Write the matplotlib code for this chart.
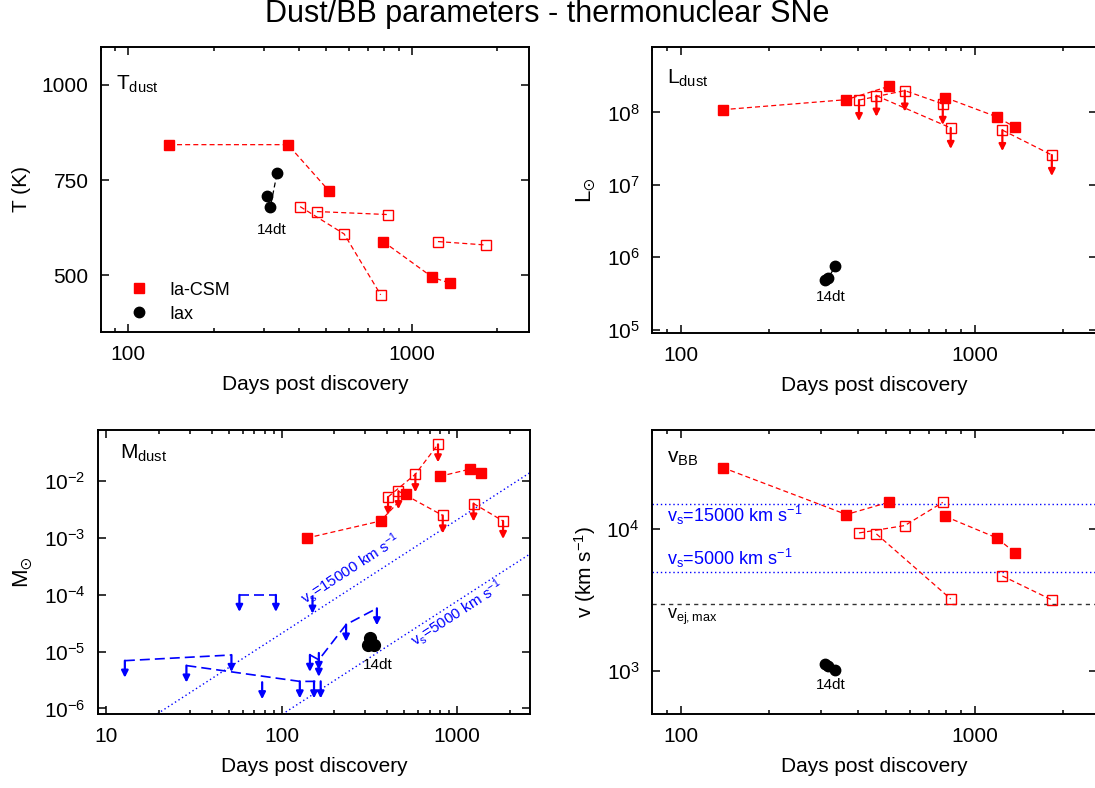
import numpy as np
import matplotlib
matplotlib.use("Agg")
import matplotlib.pyplot as plt
from matplotlib.lines import Line2D
from matplotlib.ticker import (FixedLocator, LogLocator, NullFormatter,
                               NullLocator, FuncFormatter, LogFormatterMathtext)

plt.rcParams.update({
    "font.family": ["Liberation Sans", "DejaVu Sans"],
    "mathtext.fontset": "custom",
    "mathtext.rm": "Liberation Sans",
    "mathtext.it": "Liberation Sans:italic",
    "mathtext.bf": "Liberation Sans:bold",
    "mathtext.default": "regular",
    "font.size": 15,
})

# ---- Ia-CSM, measured epochs (filled) ----
csm_a_days = [139, 366, 510]
csm_b_days = [794, 1186, 1373]
csm_a_T = [843, 843, 722]
csm_b_T = [588, 494, 478]
csm_a_L = [1.09e8, 1.50e8, 2.29e8]
csm_b_L = [1.60e8, 8.7e7, 6.2e7]
csm_a_M = [1.0e-3, 2.0e-3, 5.9e-3]
csm_b_M = [1.22e-2, 1.64e-2, 1.42e-2]
csm_a_v = [27200, 12700, 15500]
csm_b_v = [12300, 8700, 6800]

# ---- Ia-CSM, limits (open) ----
lim_a_days = [404, 578, 778]
lim_b_days = [463, 828]
lim_c_days = [1240, 1826]
lim_a_T = [680, 608, 448]
lim_b_T = [667, 659]
lim_c_T = [588, 579]
lim_a_L = [1.48e8, 2.0e8, 1.31e8]
lim_b_L = [1.70e8, 6.1e7]
lim_c_L = [5.7e7, 2.58e7]
lim_a_M = [5.3e-3, 1.33e-2, 4.47e-2]
lim_b_M = [6.7e-3, 2.5e-3]
lim_c_M = [4.06e-3, 2.0e-3]
lim_a_v = [9420, 10620, 15460]
lim_b_v = [9270, 3230]
lim_c_v = [4690, 3180]

# ---- SN 2014dt (Iax) ----
dt_days = [309, 317, 335]
dt_T = [709, 678, 768]
dt_L = [4.84e5, 5.1e5, 7.46e5]
dt_M = [1.3e-5, 1.72e-5, 1.3e-5]
dt_v = [1127, 1084, 1028]

# ---- dust-mass upper limits of other thermonuclear SNe ----
ul_groups_days = [[12.8, 51.8], [28.7, 127, 153, 167], [57.5, 92.8], [150],
                  [145, 163, 233, 349], [77.5], [163]]
ul_groups_M = [[6.95e-6, 8.75e-6], [5.7e-6, 3.0e-6, 3.0e-6, 3.0e-6],
               [1.0e-4, 1.0e-4], [9.3e-5], [8.8e-6, 7.2e-6, 3.0e-5, 5.8e-5],
               [2.9e-6], [9.5e-6]]

# ---- reference shell velocities (km/s) ----
v_shock = [15000, 5000]
v_ej_max = 3000
m_ref_100d = 2.1e-5   # dust mass at 100 d for v_s = 15000 km/s

RED = "#ff0000"
BLUE = "#0000ff"
DASH = (0, (4, 2.5))
SUN = r"$_{\odot}$"

W, H = 1095, 788
fig = plt.figure(figsize=(W / 100, H / 100), dpi=100)


def box(l, r, t, b):
    return [l / W, 1 - b / H, (r - l) / W, (b - t) / H]


ax1 = fig.add_axes(box(101, 529, 47, 332))
ax2 = fig.add_axes(box(652, 1097, 47, 333))
ax3 = fig.add_axes(box(98, 530, 430, 714))
ax4 = fig.add_axes(box(652, 1097, 430, 714))

fig.text(0.5, 1 - 14 / H, "Dust/BB parameters - thermonuclear SNe",
         ha="center", va="center", fontsize=22)


def style(ax, xmin, xticks):
    ax.set_xscale("log")
    ax.set_xlim(xmin, 2600)
    ax.xaxis.set_major_locator(FixedLocator(xticks))
    ax.xaxis.set_major_formatter(FuncFormatter(lambda v, p: f"{v:g}"))
    ax.xaxis.set_minor_locator(LogLocator(base=10, subs=range(2, 10), numticks=20))
    ax.xaxis.set_minor_formatter(NullFormatter())
    ax.tick_params(which="both", direction="in", top=True, right=True, width=1.1)
    ax.tick_params(which="major", length=6, pad=9)
    ax.tick_params(which="minor", length=3)
    for s in ax.spines.values():
        s.set_linewidth(1.4)
    ax.set_xlabel("Days post discovery", labelpad=8)


def log_y(ax, lo, hi):
    ax.set_yscale("log")
    ax.set_ylim(lo, hi)
    ax.yaxis.set_major_locator(LogLocator(base=10, numticks=20))
    ax.yaxis.set_major_formatter(LogFormatterMathtext())
    ax.yaxis.set_minor_locator(NullLocator())


def chain(ax, d, v, filled):
    ax.plot(d, v, ls=DASH, lw=0.9, color=RED, marker="s", ms=7.2,
            mfc=RED if filled else "none", mec=RED, mew=1.0, zorder=3)


def down_arrow(ax, x, y, color, px=19):
    x0, y0 = ax.transData.transform((x, y))
    _, yt = ax.transData.inverted().transform((x0, y0 - px))
    ax.annotate("", xy=(x, yt), xytext=(x, y),
                arrowprops=dict(arrowstyle="-|>", color=color, lw=1.6,
                                mutation_scale=10, shrinkA=0, shrinkB=0),
                zorder=4)


def sn14dt(ax, vals, off):
    ax.plot(dt_days, vals, ls=(0, (4, 2.5)), lw=0.9, color="black",
            marker="o", ms=7.5, zorder=3)
    ax.annotate("14dt", xy=(dt_days[0], vals[0]), xytext=off,
                textcoords="offset points", ha="center", va="center",
                fontsize=11)


# ---------------- T_dust ----------------
style(ax1, 80, [100, 1000])
ax1.set_ylim(350, 1100)
ax1.yaxis.set_major_locator(FixedLocator([500, 750, 1000]))
ax1.set_ylabel("T (K)", labelpad=8)
for d, v in [(csm_a_days, csm_a_T), (csm_b_days, csm_b_T)]:
    chain(ax1, d, v, True)
for d, v in [(lim_a_days, lim_a_T), (lim_b_days, lim_b_T), (lim_c_days, lim_c_T)]:
    chain(ax1, d, v, False)
sn14dt(ax1, dt_T, (3.5, -25))
ax1.text(0.035, 0.85, r"T$_{dust}$", transform=ax1.transAxes, fontsize=15)
ax1.legend(handles=[Line2D([], [], ls="none", marker="s", color=RED, ms=7.2,
                           label="Ia-CSM"),
                    Line2D([], [], ls="none", marker="o", color="black", ms=7.5,
                           label="Iax")],
           loc="lower left", bbox_to_anchor=(0.037, -0.012), frameon=False,
           fontsize=13, handlelength=1.0, handletextpad=1.2,
           labelspacing=0.4, borderaxespad=0.3)

# ---------------- L_dust ----------------
style(ax2, 80, [100, 1000])
log_y(ax2, 9e4, 8e8)
ax2.set_ylabel("L" + SUN, labelpad=6, fontsize=16)
for d, v in [(csm_a_days, csm_a_L), (csm_b_days, csm_b_L)]:
    chain(ax2, d, v, True)
for d, v in [(lim_a_days, lim_a_L), (lim_b_days, lim_b_L), (lim_c_days, lim_c_L)]:
    chain(ax2, d, v, False)
    for x, y in zip(d, v):
        down_arrow(ax2, x, y, RED, px=21)
sn14dt(ax2, dt_L, (4.5, -12))
ax2.text(0.034, 0.87, r"L$_{dust}$", transform=ax2.transAxes, fontsize=15)

# ---------------- M_dust ----------------
style(ax3, 9, [10, 100, 1000])
log_y(ax3, 8e-7, 0.08)
ax3.set_ylabel("M" + SUN, labelpad=6, fontsize=16)
tt = np.logspace(np.log10(9), np.log10(2600), 200)
for vs in v_shock:
    mm = m_ref_100d * (vs / 15000.0) ** 3 * (tt / 100.0) ** 2
    ax3.plot(tt, mm, ls=(0, (1, 2)), lw=1.0, color=BLUE, zorder=1)
for d, v in zip(ul_groups_days, ul_groups_M):
    ax3.plot(d, v, ls=(0, (6, 3)), lw=1.2, color=BLUE, zorder=2)
    for x, y in zip(d, v):
        down_arrow(ax3, x, y, BLUE, px=17)
for d, v in [(csm_a_days, csm_a_M), (csm_b_days, csm_b_M)]:
    chain(ax3, d, v, True)
for d, v in [(lim_a_days, lim_a_M), (lim_b_days, lim_b_M), (lim_c_days, lim_c_M)]:
    chain(ax3, d, v, False)
    for x, y in zip(d, v):
        down_arrow(ax3, x, y, RED, px=18)
ax3.plot(dt_days, dt_M, ls="none", marker="o", ms=8.5, color="black", zorder=3)
ax3.annotate("14dt", xy=(dt_days[0], dt_M[0]), xytext=(7.5, -14.5),
             textcoords="offset points", ha="center", va="center", fontsize=11)
ax3.text(0.05, 0.90, r"M$_{dust}$", transform=ax3.transAxes, fontsize=15)

# rotated labels along the shell-velocity lines
for vs, d_lab, off in [(15000, 280, 12), (5000, 930, -7)]:
    m_lab = m_ref_100d * (vs / 15000.0) ** 3 * (d_lab / 100.0) ** 2
    p1 = ax3.transData.transform((d_lab, m_lab))
    p2 = ax3.transData.transform((d_lab * 2, m_lab * 4))
    ang = np.degrees(np.arctan2(p2[1] - p1[1], p2[0] - p1[0]))
    nx, ny = -np.sin(np.radians(ang)), np.cos(np.radians(ang))
    ax3.annotate(rf"v$_s$={vs} km s$^{{-1}}$", xy=(d_lab, m_lab),
                 xytext=(off * nx, off * ny), textcoords="offset points",
                 rotation=ang, rotation_mode="anchor", ha="center",
                 va="center", color=BLUE, fontsize=11)

# ---------------- v_BB ----------------
style(ax4, 80, [100, 1000])
log_y(ax4, 500, 5e4)
ax4.set_ylabel(r"v (km s$^{-1}$)", labelpad=6)
for vs in v_shock:
    ax4.axhline(vs, ls=(0, (1, 2)), lw=1.0, color=BLUE, zorder=1)
ax4.axhline(v_ej_max, ls=(0, (3, 3)), lw=1.0, color="#333333", zorder=1)
for d, v in [(csm_a_days, csm_a_v), (csm_b_days, csm_b_v)]:
    chain(ax4, d, v, True)
for d, v in [(lim_a_days, lim_a_v), (lim_b_days, lim_b_v), (lim_c_days, lim_c_v)]:
    chain(ax4, d, v, False)
sn14dt(ax4, dt_v, (4.5, -15))
ax4.text(0.034, 0.886, r"v$_{BB}$", transform=ax4.transAxes, fontsize=15)
lab_tr = ("axes fraction", "data")
ax4.annotate(r"v$_s$=15000 km s$^{-1}$", xy=(0.033, v_shock[0]), xycoords=lab_tr,
             xytext=(0, -12.7), textcoords="offset points", va="baseline",
             color=BLUE, fontsize=13)
ax4.annotate(r"v$_s$=5000 km s$^{-1}$", xy=(0.033, v_shock[1]), xycoords=lab_tr,
             xytext=(0, 5), textcoords="offset points", va="baseline",
             color=BLUE, fontsize=13)
ax4.annotate(r"v$_{ej,max}$", xy=(0.033, v_ej_max), xycoords=lab_tr,
             xytext=(0, -11.5), textcoords="offset points", va="baseline",
             color="black", fontsize=13)

fig.savefig("out.png", dpi=100)
